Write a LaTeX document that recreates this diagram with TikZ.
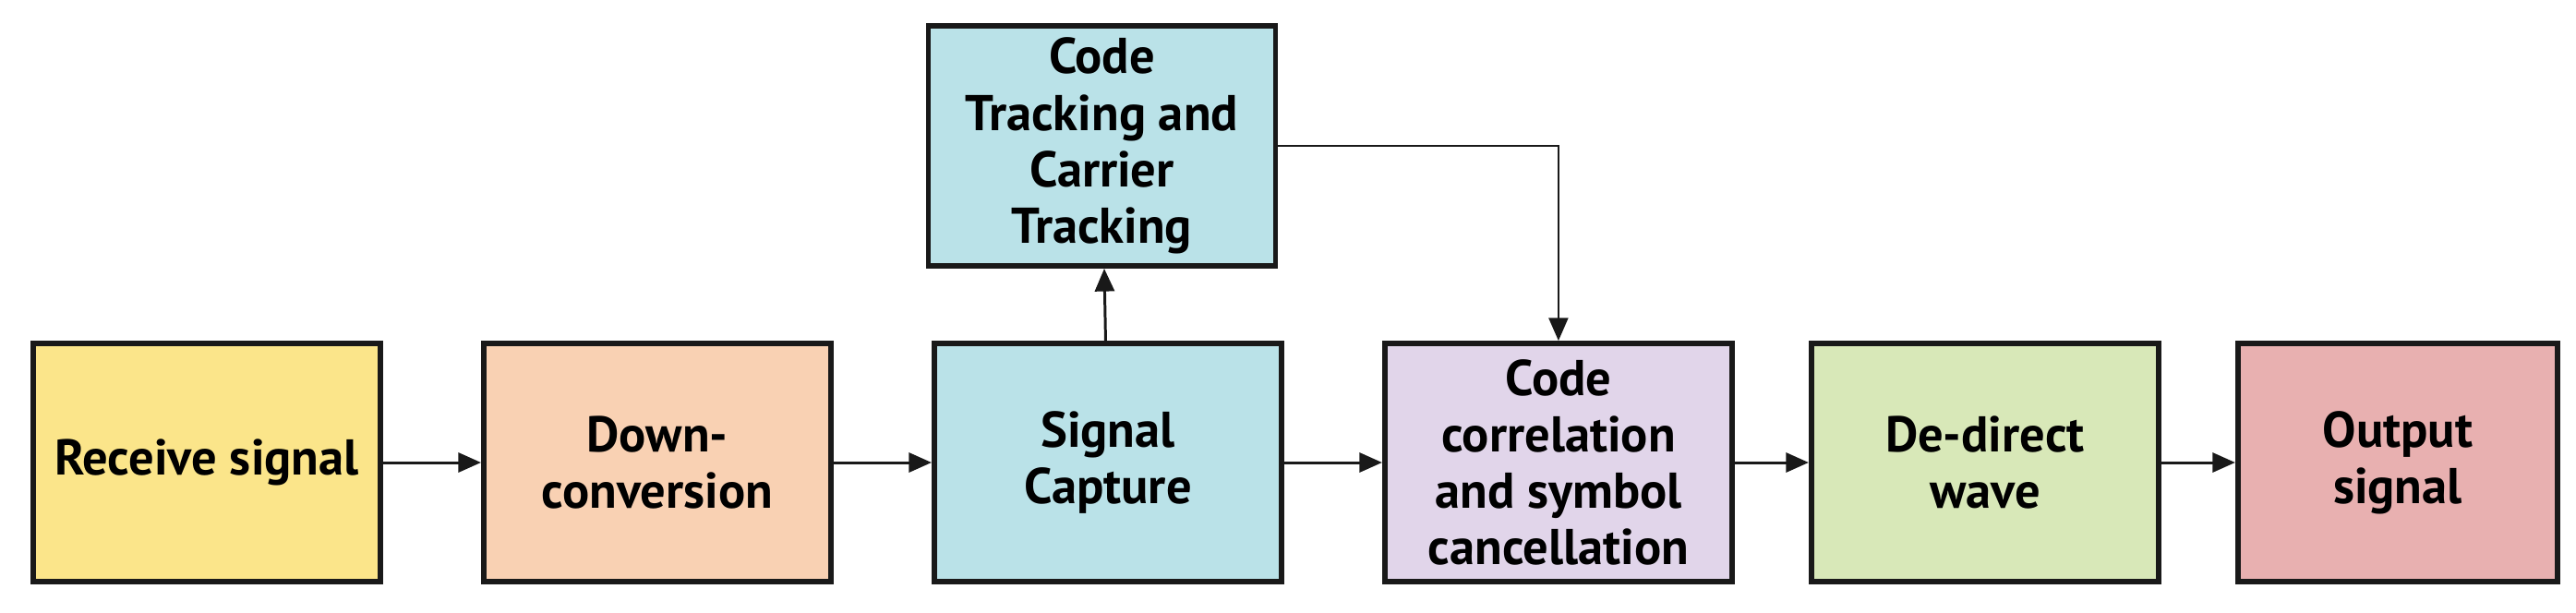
\documentclass[tikz,border=0pt]{standalone}
\usepackage{fontspec}
\setmainfont{PT Sans}
\usetikzlibrary{positioning,arrows.meta}
\definecolor{cyellow}{HTML}{FBE58A}
\definecolor{cpeach}{HTML}{F9D1B3}
\definecolor{cblue}{HTML}{BAE2E8}
\definecolor{clilac}{HTML}{E1D5EA}
\definecolor{cgreen}{HTML}{D8E8B8}
\definecolor{cpink}{HTML}{E8B0B0}
\tikzset{
  blk/.style={draw=black!90,line width=1.7pt,minimum width=3.76cm,minimum height=2.58cm,
    inner sep=0pt,align=center,font=\fontsize{15.5}{17.4}\selectfont\bfseries},
  flow/.style={-{Triangle[length=7pt,width=6pt]},line width=0.85pt,black!90},
}
\begin{document}
\begin{tikzpicture}
\useasboundingbox (0,0) rectangle (27.9,6.63);
\node[blk,fill=cyellow] (recv) at (2.24,1.62) {Receive signal};
\node[blk,fill=cpeach,right=1.06cm of recv] (down) {Down-\\conversion};
\node[blk,fill=cblue,right=1.06cm of down] (capt) {Signal\\Capture};
\node[blk,fill=clilac,right=1.06cm of capt] (corr) {Code\\correlation\\and symbol\\cancellation};
\node[blk,fill=cgreen,right=0.8cm of corr] (dedir) {De-direct\\wave};
\node[blk,fill=cpink,minimum width=3.46cm,right=0.8cm of dedir] (outp) {Output\\signal};
\node[blk,fill=cblue,minimum height=2.6cm] (track) at (11.935,5.05) {Code\\Tracking and\\Carrier\\Tracking};
% main chain
\draw[flow] (recv) -- (down);
\draw[flow] (down) -- (capt);
\draw[flow] (capt) -- (corr);
\draw[flow] (corr) -- (dedir);
\draw[flow] (dedir) -- (outp);
% tracking loop
\draw[flow] (capt) -- (track);
\draw[flow,line width=0.5pt] (track.east) -| (corr.north);
\end{tikzpicture}
\end{document}
